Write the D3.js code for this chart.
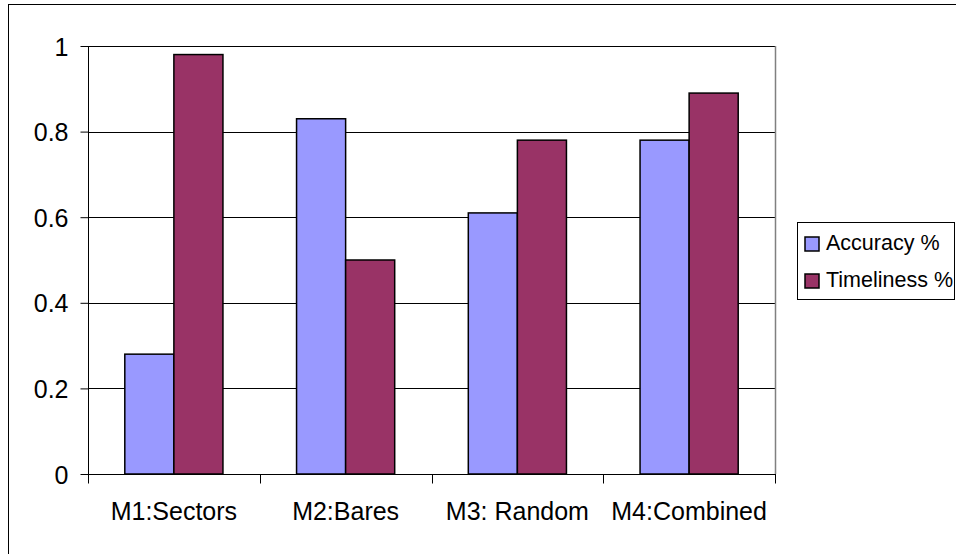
<!DOCTYPE html>
<html>
<head>
<meta charset="utf-8">
<script src="https://cdn.jsdelivr.net/npm/d3@7"></script>
<style>
  body { margin: 0; background: #fff; }
  text { font-family: "Liberation Sans", Arial, sans-serif; fill: #000; }
</style>
</head>
<body>
<svg id="main-svg" width="956" height="554"></svg>
<script>
// data
var categories = ["M1:Sectors", "M2:Bares", "M3: Random", "M4:Combined"];
var seriesNames = ["Accuracy %", "Timeliness %"];
var accuracy = [0.28, 0.83, 0.61, 0.78];
var timeliness = [0.98, 0.50, 0.78, 0.89];
var yTicks = [0, 0.2, 0.4, 0.6, 0.8, 1];

var colors = ["#9999FF", "#993366"];
var values = [accuracy, timeliness];

var canvas = d3.select('#main-svg');

// outer chart frame
canvas.append('rect')
  .attr('x', 8.5).attr('y', 4.5)
  .attr('width', 1000).attr('height', 600)
  .attr('fill', 'none').attr('stroke', '#000').attr('stroke-width', 1);

var plot = {left: 88, top: 46, right: 775, bottom: 474};

var x = d3.scaleBand().domain(categories).range([plot.left, plot.right]).padding(0);
var gap = x.bandwidth() * 1.5 / 3.5;
var xs = d3.scaleBand().domain([0, 1]).range([gap / 2, x.bandwidth() - gap / 2]).padding(0);
var y = d3.scaleLinear().domain([0, 1]).range([plot.bottom, plot.top]);

// gridlines
canvas.append('g').selectAll('line').data(yTicks.slice(1)).enter().append('line')
  .attr('x1', plot.left).attr('x2', plot.right)
  .attr('y1', (d) => Math.round(y(d)) + 0.5).attr('y2', (d) => Math.round(y(d)) + 0.5)
  .attr('stroke', '#000').attr('stroke-width', 1);

// plot area right border
canvas.append('line')
  .attr('x1', plot.right + 0.5).attr('x2', plot.right + 0.5)
  .attr('y1', plot.top).attr('y2', plot.bottom)
  .attr('stroke', '#808080').attr('stroke-width', 1.5);

// bars
var groups = canvas.append('g').selectAll('g').data(categories).enter().append('g')
  .attr('transform', (d) => `translate(${x(d)},0)`);

groups.selectAll('rect').data((d, i) => values.map((v, s) => ({s: s, v: v[i]}))).enter().append('rect')
  .attr('x', (d) => xs(d.s))
  .attr('width', xs.bandwidth())
  .attr('y', (d) => y(d.v))
  .attr('height', (d) => y(0) - y(d.v))
  .attr('fill', (d) => colors[d.s])
  .attr('stroke', '#000')
  .attr('stroke-width', 1.5);

// y axis
var yAxis = canvas.append('g')
  .attr('transform', `translate(${plot.left + 0.5},0)`)
  .call(d3.axisLeft(y).tickValues(yTicks).tickSize(8).tickPadding(12)
    .tickFormat((d) => d3.format('')(d)));
yAxis.select('.domain').attr('stroke', '#000').attr('d', `M0,${plot.top}V${plot.bottom}`);
yAxis.selectAll('.tick line').attr('stroke', '#000');
yAxis.selectAll('text').style('font-size', '25px').attr('dy', '0.36em');

// x axis
var xAxis = canvas.append('g').attr('transform', `translate(0,${plot.bottom + 0.5})`);
xAxis.append('line')
  .attr('x1', plot.left).attr('x2', plot.right + 1)
  .attr('stroke', '#000');
var boundaries = categories.map((c) => x(c)).concat([plot.right]);
xAxis.selectAll('line.tk').data(boundaries).enter().append('line').attr('class', 'tk')
  .attr('x1', (d) => Math.round(d) + 0.5).attr('x2', (d) => Math.round(d) + 0.5)
  .attr('y1', 0).attr('y2', 9)
  .attr('stroke', '#000');
xAxis.selectAll('text').data(categories).enter().append('text')
  .attr('x', (d) => x(d) + x.bandwidth() / 2)
  .attr('y', 45)
  .attr('text-anchor', 'middle')
  .style('font-size', '25px')
  .text((d) => d);

// legend
var legend = canvas.append('g');
legend.append('rect')
  .attr('x', 797.5).attr('y', 222.5).attr('width', 157).attr('height', 77)
  .attr('fill', '#fff').attr('stroke', '#000').attr('stroke-width', 1);
var items = legend.selectAll('g').data(seriesNames).enter().append('g')
  .attr('transform', (d, i) => `translate(805,${237 + i * 37})`);
items.append('rect')
  .attr('width', 14).attr('height', 14)
  .attr('fill', (d, i) => colors[i])
  .attr('stroke', '#000').attr('stroke-width', 1.5);
items.append('text')
  .attr('x', 21).attr('y', 12.5)
  .style('font-size', '21.5px')
  .text((d) => d);
</script>
</body>
</html>
